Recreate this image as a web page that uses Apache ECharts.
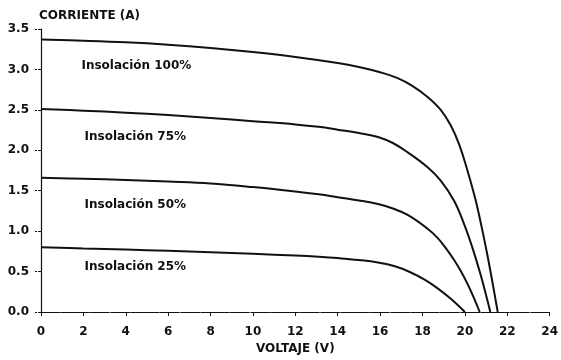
<!DOCTYPE html>
<html>
<head>
<meta charset="utf-8">
<script src="https://cdn.jsdelivr.net/npm/echarts@6/dist/echarts.min.js"></script>
<style>
  html, body { margin: 0; padding: 0; background: #fff; }
  #chart { width: 561px; height: 360px; }
</style>
</head>
<body>
<div id="chart"></div>
<script>
// voltage (V) / current (A)
const v100 = [0, 2, 4, 6, 8, 10, 12, 14, 15, 16, 16.8, 17.5, 18.24, 18.86, 19.33, 19.72, 20.11, 20.5, 20.8, 21.05, 21.3, 21.55]
const i100 = [3.37, 3.355, 3.335, 3.305, 3.265, 3.215, 3.155, 3.08, 3.03, 2.965, 2.895, 2.80, 2.66, 2.50, 2.31, 2.08, 1.76, 1.39, 1.04, 0.72, 0.37, 0]
const v75 = [0, 2, 4, 6, 8, 10, 12, 13.1, 14, 15, 15.9, 16.6, 17.3, 18.24, 18.86, 19.49, 19.96, 20.35, 20.7, 20.95, 21.2]
const i75 = [2.51, 2.49, 2.465, 2.435, 2.40, 2.36, 2.32, 2.29, 2.255, 2.213, 2.165, 2.09, 1.975, 1.79, 1.625, 1.375, 1.09, 0.80, 0.50, 0.26, 0]
const v50 = [0, 2, 4, 6, 8, 10, 12, 13.1, 14, 15, 15.9, 16.6, 17.3, 18.24, 18.7, 19.1, 19.5, 19.8, 20.1, 20.4, 20.7]
const i50 = [1.66, 1.648, 1.633, 1.614, 1.59, 1.545, 1.49, 1.455, 1.42, 1.38, 1.335, 1.28, 1.20, 1.03, 0.92, 0.79, 0.64, 0.51, 0.36, 0.19, 0]
const v25 = [0, 2, 4, 6, 8, 10, 12, 13.1, 14, 15, 15.9, 16.7, 17.4, 18.1, 18.7, 19.35, 20.0]
const i25 = [0.80, 0.786, 0.772, 0.757, 0.74, 0.72, 0.698, 0.683, 0.667, 0.643, 0.612, 0.565, 0.495, 0.40, 0.295, 0.16, 0]

const seriesNames = ['Insolación 100%', 'Insolación 75%', 'Insolación 50%', 'Insolación 25%']
// label anchor (V, A) for each curve's caption
const labelPos = [[4.5, 3.04], [4.45, 2.17], [4.45, 1.33], [4.45, 0.56]]

const FONT = '"DejaVu Sans", "Liberation Sans", sans-serif'
const INK = '#111'

function pairs(xs, ys) {
  return xs.map((x, i) => [x, ys[i]])
}

function buildSeries(name, data, pos) {
  return {
    name,
    type: 'line',
    data,
    smooth: 0.4,
    showSymbol: false,
    lineStyle: { color: INK, width: 2 },
    markPoint: {
      symbol: 'circle',
      symbolSize: 0,
      data: [{ coord: pos }],
      label: {
        show: true,
        formatter: name,
        color: INK,
        fontFamily: FONT,
        fontWeight: 'bold',
        fontSize: 12,
      },
    },
    silent: true,
  }
}

const chart = echarts.init(document.getElementById('chart'))
chart.setOption({
  animation: false,
  backgroundColor: '#fff',
  grid: { left: 41, right: 8, top: 29, bottom: 44 },
  xAxis: [{
    type: 'value',
    min: 0,
    max: 24,
    interval: 2,
    name: 'VOLTAJE (V)',
    nameLocation: 'middle',
    nameGap: 31,
    nameTextStyle: { color: INK, fontFamily: FONT, fontWeight: 'bold', fontSize: 12 },
    axisLine: { lineStyle: { color: INK, width: 1, type: [5, 2] } },
    axisTick: { show: true, inside: false, length: 4, lineStyle: { color: INK } },
    axisLabel: { color: INK, fontFamily: FONT, fontWeight: 'bold', fontSize: 12, margin: 14 },
    splitLine: { show: false },
  }, {
    type: 'value',
    position: 'top',
    min: 0,
    max: 24,
    axisLine: { show: true, lineStyle: { color: INK, width: 1.2, type: [8, 2] } },
    axisTick: { show: false },
    axisLabel: { show: false },
    splitLine: { show: false },
  }],
  yAxis: [{
    type: 'value',
    min: 0,
    max: 3.5,
    interval: 0.5,
    name: 'CORRIENTE (A)',
    nameLocation: 'end',
    nameGap: 7,
    nameTextStyle: { color: INK, fontFamily: FONT, fontWeight: 'bold', fontSize: 12, align: 'left', padding: [0, 0, 0, -2] },
    axisLine: { show: true, lineStyle: { color: '#bbb', width: 1, type: [1, 5] } },
    axisTick: { show: true, length: 6, lineStyle: { color: INK, type: [3, 1] } },
    axisLabel: {
      color: INK, fontFamily: FONT, fontWeight: 'bold', fontSize: 12, margin: 12,
      formatter: (v) => v.toFixed(1),
    },
    splitLine: { show: false },
  }, {
    type: 'value',
    position: 'right',
    min: 0,
    max: 3.5,
    axisLine: { show: true, lineStyle: { color: INK, width: 1.2 } },
    axisTick: { show: false },
    axisLabel: { show: false },
    splitLine: { show: false },
  }],
  series: [
    buildSeries(seriesNames[0], pairs(v100, i100), labelPos[0]),
    buildSeries(seriesNames[1], pairs(v75, i75), labelPos[1]),
    buildSeries(seriesNames[2], pairs(v50, i50), labelPos[2]),
    buildSeries(seriesNames[3], pairs(v25, i25), labelPos[3]),
  ],
})
</script>
</body>
</html>
